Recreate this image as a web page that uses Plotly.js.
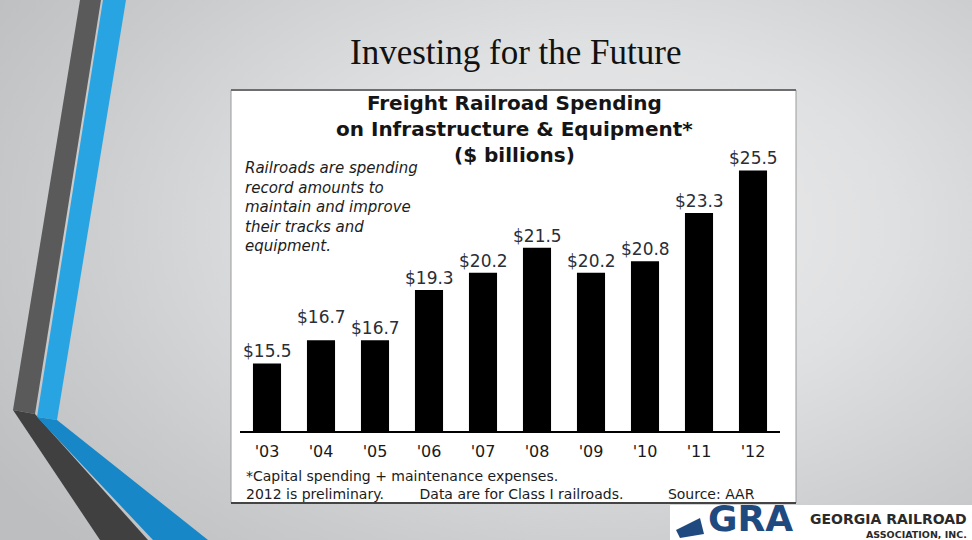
<!DOCTYPE html>
<html>
<head>
<meta charset="utf-8">
<script src="https://cdn.plot.ly/plotly-3.0.1.min.js"></script>
<style>
  html, body { margin: 0; padding: 0; width: 972px; height: 540px; overflow: hidden; }
  body { background: radial-gradient(ellipse 75% 85% at 62% 42%, #ededee 0%, #dfe0e1 40%, #c9cbcd 75%, #bcbec0 100%); }
  #chart { width: 972px; height: 540px; }
</style>
</head>
<body>
<div id="chart"></div>
<script>
// ---- data ----
const years = ["'03", "'04", "'05", "'06", "'07", "'08", "'09", "'10", "'11", "'12"];
const spending = [15.5, 16.7, 16.7, 19.3, 20.2, 21.5, 20.2, 20.8, 23.3, 25.5];
const valueLabels = ["$15.5", "$16.7", "$16.7", "$19.3", "$20.2", "$21.5", "$20.2", "$20.8", "$23.3", "$25.5"];
const slideTitle = "Investing for the Future";
const chartTitle = ["Freight Railroad Spending", "on Infrastructure & Equipment*", "($ billions)"];
const noteLines = ["Railroads are spending", "record amounts to", "maintain and improve", "their tracks and", "equipment."];
const footLine1 = "*Capital spending + maintenance expenses.";
const footLine2 = ["2012 is preliminary.", "Data are for Class I railroads.", "Source: AAR"];

// ---- layout helpers (pixel -> paper) ----
const W = 972, H = 540;
const PL = 240, PR = 780, PT = 89, PB = 431;
const fx = x => (x - PL) / (PR - PL);
const fy = y => (PB - y) / (PB - PT);
const labelShift = [12, 23, 12, 12, 12, 12, 12, 12, 12, 12];
const SANS = "DejaVu Sans, Liberation Sans, Arial, sans-serif";
const gap = n => '\u00A0'.repeat(n);

const trace = {
  type: 'bar', x: years, y: spending,
  marker: { color: '#000000', line: { width: 0 } },
  hoverinfo: 'skip'
};

const annotations = [];
// slide title
annotations.push({ xref: 'paper', yref: 'paper', x: fx(515), y: fy(52), text: slideTitle, showarrow: false,
  xanchor: 'center', yanchor: 'middle', font: { family: 'Liberation Serif, Times New Roman, serif', size: 35, color: '#111' } });
// chart title (three lines)
annotations.push({ xref: 'paper', yref: 'paper', x: fx(514), y: fy(129), text: chartTitle.map(t => '<b>' + t + '</b>').join('<br>'),
  showarrow: false, xanchor: 'center', yanchor: 'middle', align: 'center', font: { family: SANS, size: 20, color: '#151515' } });
// italic note
annotations.push({ xref: 'paper', yref: 'paper', x: fx(243), y: fy(207), text: noteLines.map(t => '<i>' + t + '</i>').join('<br>'),
  showarrow: false, xanchor: 'left', yanchor: 'middle', align: 'left', font: { family: SANS, size: 15, color: '#1c1c1c' } });
// value labels
spending.forEach((v, i) => annotations.push({ x: years[i], y: v, xref: 'x', yref: 'y', text: valueLabels[i], showarrow: false,
  xanchor: 'center', yanchor: 'middle', yshift: labelShift[i], font: { family: SANS, size: 17, color: '#2a2e36' } }));
// footnotes
annotations.push({ xref: 'paper', yref: 'paper', x: fx(244), y: fy(484.5),
  text: footLine1 + '<br>' + footLine2[0] + gap(8) + footLine2[1] + gap(10) + footLine2[2], showarrow: false,
  xanchor: 'left', yanchor: 'middle', align: 'left', font: { family: SANS, size: 14, color: '#1c1c1c' } });
// logo text
annotations.push({ xref: 'paper', yref: 'paper', x: fx(706), y: fy(541), text: '<b>GRA</b>', showarrow: false,
  xanchor: 'left', yanchor: 'bottom', font: { family: SANS, size: 36, color: '#1f4a80' } });
annotations.push({ xref: 'paper', yref: 'paper', x: fx(969), y: fy(519), text: '<b>GEORGIA RAILROAD</b>', showarrow: false,
  xanchor: 'right', yanchor: 'middle', font: { family: SANS, size: 14, color: '#2a2a2a' } });
annotations.push({ xref: 'paper', yref: 'paper', x: fx(969), y: fy(534), text: '<b>ASSOCIATION, INC.</b>', showarrow: false,
  xanchor: 'right', yanchor: 'middle', font: { family: SANS, size: 9.5, color: '#2a2a2a' } });

function poly(pts) {
  return 'M ' + pts.map(p => fx(p[0]) + ',' + fy(p[1])).join(' L ') + ' Z';
}
const shapes = [
  // decorative stripes
  { type: 'path', xref: 'paper', yref: 'paper', layer: 'below', path: poly([[80,0],[101,0],[35,414],[13,410]]), fillcolor: '#5a5a5a', line: { width: 0 } },
  { type: 'path', xref: 'paper', yref: 'paper', layer: 'below', path: poly([[13,410],[35,414],[148,540],[100,540]]), fillcolor: '#404040', line: { width: 0 } },
  { type: 'path', xref: 'paper', yref: 'paper', layer: 'below', path: poly([[103,0],[126,0],[57,420],[37,417]]), fillcolor: '#29a4e3', line: { width: 0 } },
  { type: 'path', xref: 'paper', yref: 'paper', layer: 'below', path: poly([[37,417],[57,420],[208,540],[153,540]]), fillcolor: '#1787c7', line: { width: 0 } },
  // white chart panel
  { type: 'rect', xref: 'paper', yref: 'paper', layer: 'below', x0: fx(231), x1: fx(796), y0: fy(503), y1: fy(90), fillcolor: '#ffffff', line: { color: '#9a9a9a', width: 1 } },
  { type: 'line', xref: 'paper', yref: 'paper', layer: 'below', x0: fx(231), x1: fx(796), y0: fy(90), y1: fy(90), line: { color: '#6e6e6e', width: 2 } },
  { type: 'line', xref: 'paper', yref: 'paper', layer: 'below', x0: fx(231), x1: fx(796), y0: fy(503), y1: fy(503), line: { color: '#444444', width: 2 } },
  // logo panel
  { type: 'rect', xref: 'paper', yref: 'paper', layer: 'below', x0: fx(670), x1: fx(972), y0: fy(540), y1: fy(505), fillcolor: '#ffffff', line: { width: 0 } },
  { type: 'path', xref: 'paper', yref: 'paper', layer: 'below', path: poly([[676,530],[700,518],[704,534],[680,538]]), fillcolor: '#1f4a80', line: { width: 0 } }
];

const layout = {
  width: W, height: H,
  margin: { l: PL, r: W - PR, t: PT, b: H - PB, pad: 0 },
  paper_bgcolor: 'rgba(0,0,0,0)', plot_bgcolor: 'rgba(0,0,0,0)',
  showlegend: false, bargap: 0.48,
  xaxis: { type: 'category', showline: true, linecolor: '#000', linewidth: 2, ticks: 'outside', ticklen: 5, tickcolor: 'rgba(0,0,0,0)',
    showgrid: false, zeroline: false, tickfont: { family: SANS, size: 16, color: '#1a1a1a' }, fixedrange: true },
  yaxis: { range: [12, 29.72], visible: false, showgrid: false, zeroline: false, fixedrange: true },
  annotations: annotations, shapes: shapes
};

Plotly.newPlot('chart', [trace], layout, { displayModeBar: false, staticPlot: true });
</script>
</body>
</html>
